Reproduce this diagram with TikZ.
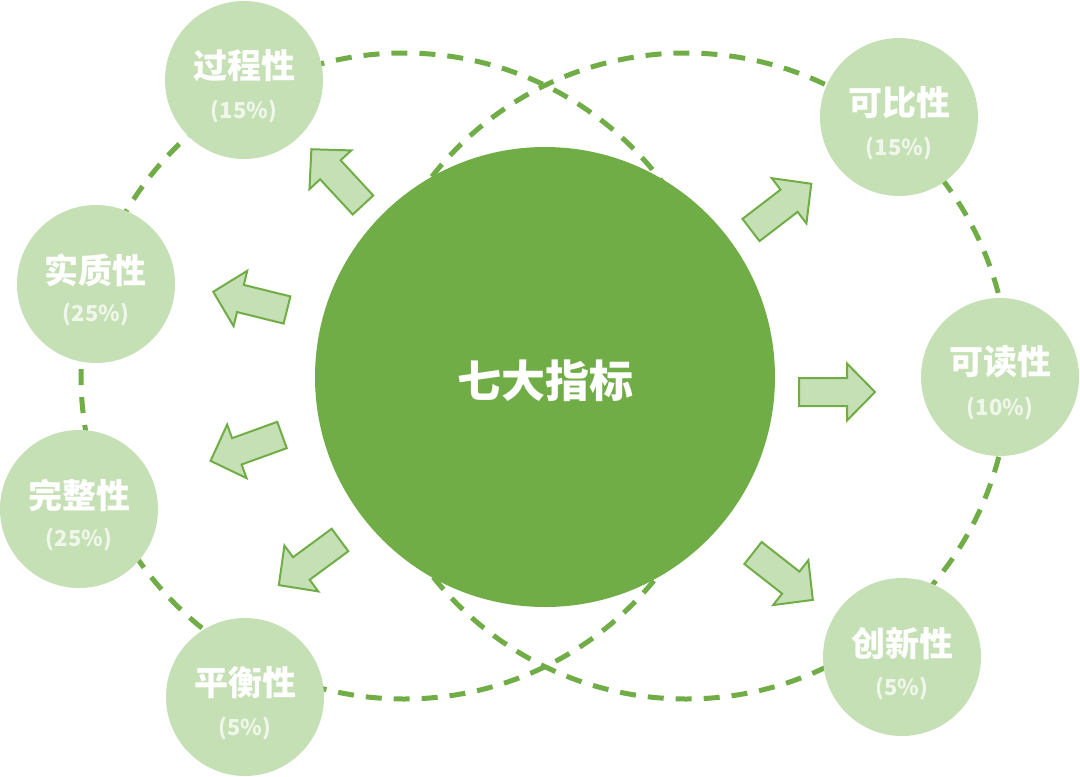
\documentclass[tikz,border=0pt]{standalone}
\usepackage{fontspec}
\newfontfamily\cjk{Noto Sans CJK SC}
\definecolor{dgreen}{HTML}{70AD47}
\definecolor{lgreen}{HTML}{C5E0B4}
\colorlet{pctcol}{white!72!lgreen}
\tikzset{
  dashline/.style={draw=dgreen, line width=5pt, dash pattern=on 16pt off 12pt},
  small/.style={circle, fill=lgreen, minimum size=158pt, inner sep=0pt},
  big/.style={circle, fill=dgreen, minimum size=460pt, inner sep=0pt},
  ttl/.style={text=white, font=\cjk\bfseries\fontsize{34}{38}\selectfont, inner sep=0pt},
  pct/.style={text=pctcol, font=\cjk\bfseries\fontsize{22}{26}\selectfont, inner sep=0pt},
  bigttl/.style={text=white, font=\cjk\bfseries\fontsize{44}{50}\selectfont, inner sep=0pt},
  arrowbox/.style={fill=lgreen, draw=dgreen, line width=2pt, line join=miter},
  blockarr/.pic={\path[arrowbox] (0,-14) -- (48,-14) -- (48,-28.5) -- (76,0) -- (48,28.5) -- (48,14) -- (0,14) -- cycle;}
}
\begin{document}
\begin{tikzpicture}[x=1pt,y=-1pt]
\useasboundingbox (0,0) rectangle (1080,777);
% dashed rings
\draw[dashline] (404,376) circle[radius=323pt];
\draw[dashline] (686,376) circle[radius=323pt];
% central circle
\node[big] (c) at (545,377) {};
\node[bigttl] (ct) at (545,381) {七大指标};
% small circles
\node[small] (n1) at (244,80) {};
\node[ttl] (n1t) at (244,66) {过程性};
\node[pct] (n1p) at (244,111) {(15\%)};
\node[small] (n2) at (96,284) {};
\node[ttl] (n2t) at (96,270) {实质性};
\node[pct] (n2p) at (96,314) {(25\%)};
\node[small] (n3) at (79,509) {};
\node[ttl] (n3t) at (79,495) {完整性};
\node[pct] (n3p) at (79,539) {(25\%)};
\node[small] (n4) at (245,697) {};
\node[ttl] (n4t) at (245,683) {平衡性};
\node[pct] (n4p) at (245,728) {(5\%)};
\node[small] (n5) at (899,117) {};
\node[ttl] (n5t) at (899,103) {可比性};
\node[pct] (n5p) at (899,148) {(15\%)};
\node[small] (n6) at (1000,377) {};
\node[ttl] (n6t) at (1000,362) {可读性};
\node[pct] (n6p) at (1000,408) {(10\%)};
\node[small] (n7) at (902,657) {};
\node[ttl] (n7t) at (902,643) {创新性};
\node[pct] (n7p) at (902,688) {(5\%)};
% block arrows
\pic[rotate=132.8] (a1) at (363,205) {blockarr};
\pic[rotate=166.1] (a2) at (287,310) {blockarr};
\pic[rotate=199.9] (a3) at (282,435) {blockarr};
\pic[rotate=216.4] (a4) at (340,540) {blockarr};
\pic[rotate=37.5] (a5) at (751,230) {blockarr};
\pic[rotate=0] (a6) at (799,392) {blockarr};
\pic[rotate=-38.1] (a7) at (753,553) {blockarr};
\end{tikzpicture}
\end{document}
